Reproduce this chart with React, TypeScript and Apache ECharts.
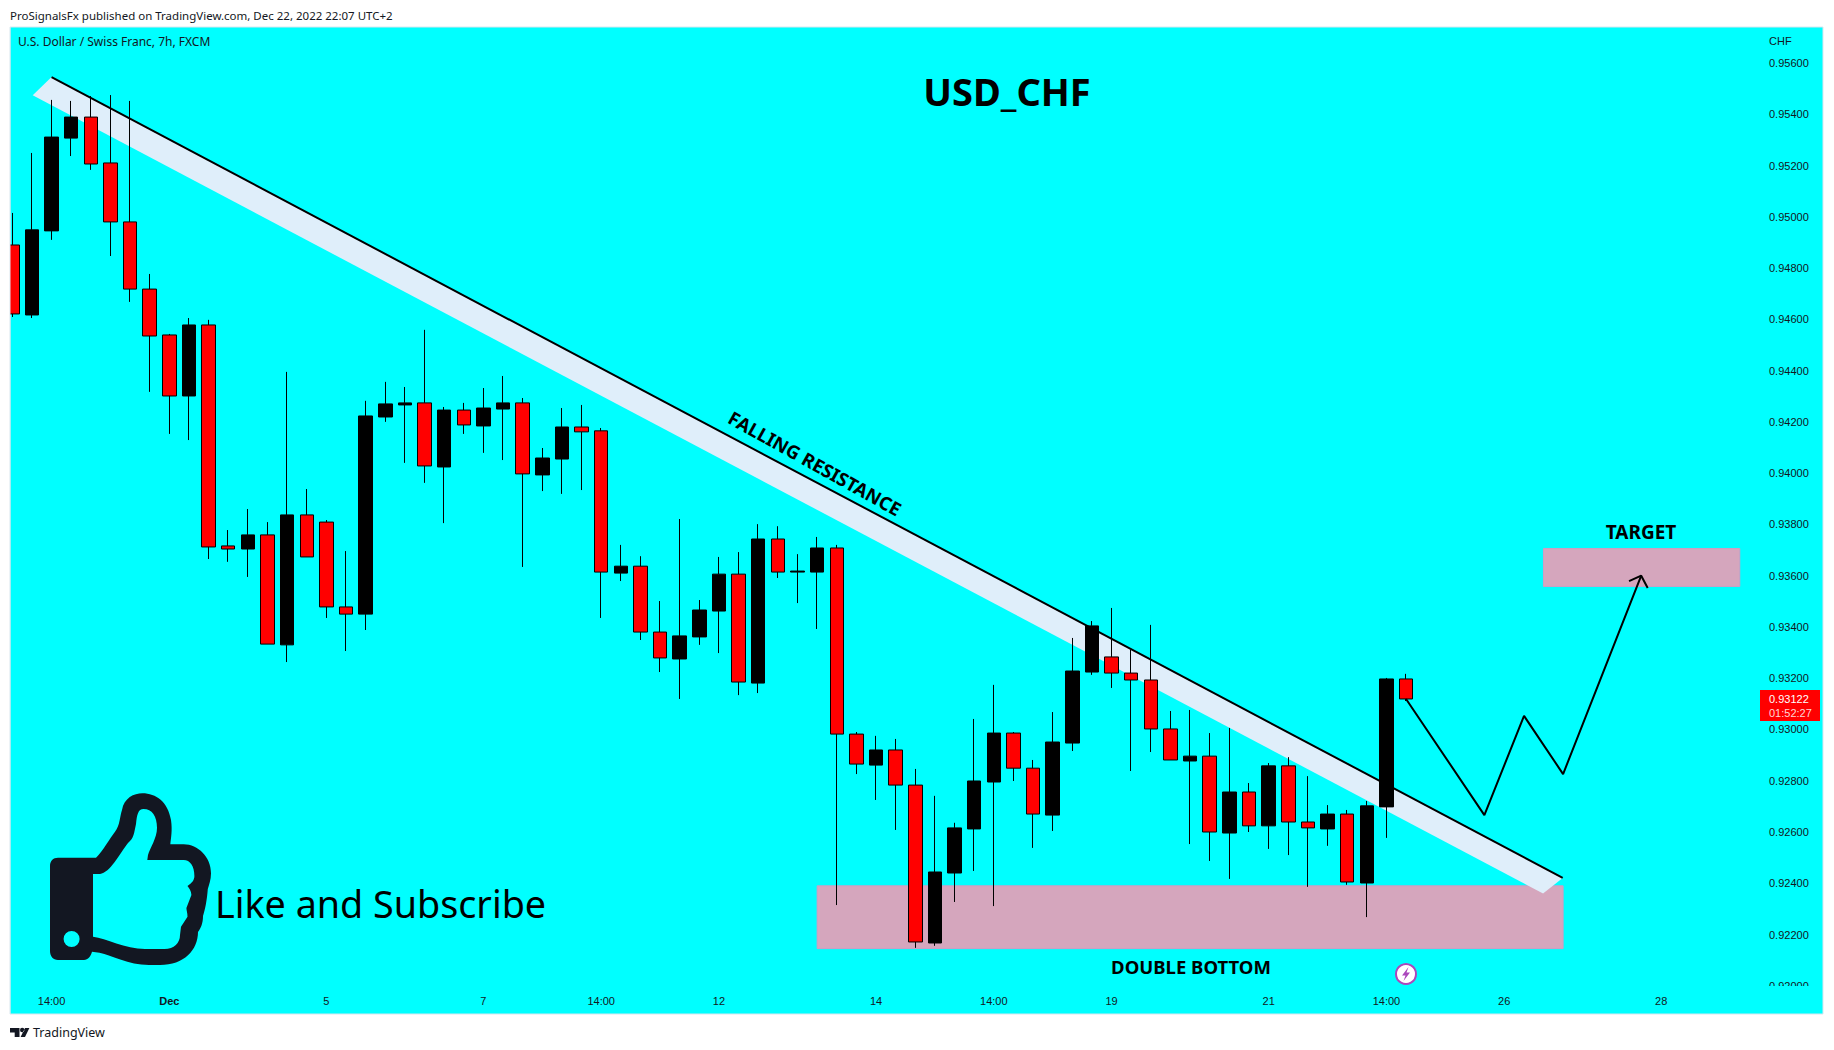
import React, { useEffect, useRef } from "react";
import * as echarts from "echarts";

// [open, close, low, high] of every 7h candle
const candleRows: number[][] = [
  [0.9489, 0.94621, 0.94609, 0.95015],
  [0.94617, 0.94949, 0.94605, 0.95249],
  [0.94945, 0.95311, 0.9491, 0.95456],
  [0.95307, 0.95389, 0.95237, 0.95452],
  [0.95389, 0.95206, 0.95183, 0.95471],
  [0.9521, 0.9498, 0.94847, 0.95475],
  [0.9498, 0.94718, 0.94668, 0.95452],
  [0.94718, 0.94535, 0.94317, 0.94777],
  [0.94539, 0.94301, 0.94153, 0.94543],
  [0.94301, 0.94578, 0.94129, 0.94605],
  [0.94578, 0.93712, 0.93665, 0.94598],
  [0.93716, 0.93704, 0.93654, 0.93778],
  [0.93704, 0.93759, 0.93595, 0.9386],
  [0.93759, 0.93333, 0.93333, 0.93809],
  [0.9333, 0.93837, 0.93263, 0.94395],
  [0.93837, 0.93673, 0.93673, 0.93938],
  [0.93809, 0.93478, 0.93435, 0.93817],
  [0.93478, 0.9345, 0.93306, 0.93696],
  [0.9345, 0.94223, 0.93388, 0.94282],
  [0.94219, 0.9427, 0.942, 0.94356],
  [0.94266, 0.94274, 0.9404, 0.94336],
  [0.94274, 0.94028, 0.93962, 0.94559],
  [0.94024, 0.94246, 0.93805, 0.94258],
  [0.94246, 0.94188, 0.94153, 0.94274],
  [0.94184, 0.94254, 0.94079, 0.94332],
  [0.9425, 0.94274, 0.94051, 0.94379],
  [0.94274, 0.93997, 0.93634, 0.94293],
  [0.93993, 0.94059, 0.9393, 0.94098],
  [0.94055, 0.9418, 0.93919, 0.94254],
  [0.9418, 0.94161, 0.93934, 0.94266],
  [0.94165, 0.93614, 0.93435, 0.94176],
  [0.9361, 0.93637, 0.93579, 0.9372],
  [0.93637, 0.9338, 0.93349, 0.93676],
  [0.9338, 0.93279, 0.93224, 0.93501],
  [0.93275, 0.93365, 0.93119, 0.93821],
  [0.93361, 0.93466, 0.9333, 0.93505],
  [0.93462, 0.93606, 0.93298, 0.93673],
  [0.93606, 0.93185, 0.93134, 0.93692],
  [0.93181, 0.93743, 0.93142, 0.93801],
  [0.93743, 0.93614, 0.93591, 0.93793],
  [0.93614, 0.93618, 0.93493, 0.93684],
  [0.93614, 0.93708, 0.93392, 0.93751],
  [0.93708, 0.92982, 0.92315, 0.9372],
  [0.92982, 0.92865, 0.92826, 0.9299],
  [0.92861, 0.9292, 0.92725, 0.92975],
  [0.9292, 0.92783, 0.92608, 0.92963],
  [0.92783, 0.92171, 0.92148, 0.92846],
  [0.92167, 0.92444, 0.92156, 0.92741],
  [0.9244, 0.92616, 0.92327, 0.92636],
  [0.92612, 0.92799, 0.92448, 0.93041],
  [0.92795, 0.92986, 0.92311, 0.93174],
  [0.92986, 0.92849, 0.92799, 0.9299],
  [0.92849, 0.9267, 0.92538, 0.92881],
  [0.92666, 0.92951, 0.92604, 0.93068],
  [0.92947, 0.93228, 0.92916, 0.93357],
  [0.93224, 0.93404, 0.93213, 0.93423],
  [0.93283, 0.9322, 0.93162, 0.93474],
  [0.9322, 0.93193, 0.92838, 0.9331],
  [0.93193, 0.93002, 0.92912, 0.93408],
  [0.93002, 0.92881, 0.92881, 0.93072],
  [0.92877, 0.92896, 0.92553, 0.93076],
  [0.92896, 0.926, 0.92487, 0.92986],
  [0.92596, 0.92756, 0.92417, 0.93006],
  [0.92756, 0.92624, 0.926, 0.92791],
  [0.92624, 0.92858, 0.92534, 0.92869],
  [0.92858, 0.92639, 0.9251, 0.92892],
  [0.92639, 0.92616, 0.92386, 0.92818],
  [0.92612, 0.9267, 0.92546, 0.92705],
  [0.9267, 0.92405, 0.92394, 0.92686],
  [0.92401, 0.92702, 0.92268, 0.92721],
  [0.92698, 0.93197, 0.92577, 0.93201],
  [0.93197, 0.93119, 0.93111, 0.93217],
];

const timeTickIndexes = [2, 8, 16, 24, 30, 36, 44, 50, 56, 64, 70, 76, 84];
const timeTickLabels = ["14:00", "Dec", "5", "7", "14:00", "12", "14", "14:00", "19", "21", "14:00", "26", "28"];
const priceTicks = [0.92, 0.922, 0.924, 0.926, 0.928, 0.93, 0.932, 0.934, 0.936, 0.938, 0.94, 0.942, 0.944, 0.946, 0.948, 0.95, 0.952, 0.954, 0.956];

// drawings, as [bar index, price]
const resistanceLine = [[2.0, 0.95545], [78.98, 0.92421]];
const resistanceBand = [[2.0, 0.95545], [78.98, 0.92421], [77.98, 0.9236], [1.04, 0.95474]];
const doubleBottomZone = [[41, 0.9239], [79, 0.92145]];
const targetZone = [[78, 0.93706], [88, 0.93558]];
const projection = [[71, 0.93119], [74.99, 0.92666], [77.01, 0.93053], [79, 0.92826], [82.98, 0.936]];
const arrowHead = [[82.36, 0.93579], [82.98, 0.936], [83.31, 0.93552]];

const THUMB =
  "M58 857.7 L96 857.7 C103 851 110 838 115 831.7 C120 826 120 815 122 810 C124 798 134 793.3 142.4 793.3 C156 793.3 168 802 171 820 C172.5 830 171 838 170.3 844.3 L183.7 844.3 C198 844.3 211 857 211 873.3 C211 880 209 885 207.8 889 C207 900 205 910 203 916 C203 923 201 928 198 932 C198 950 184 965 160 965 L149 965 C128 965 112 955 99.5 952.7 L92 951.7 C91 956 88 960 84 960 L58 960 C53 960 50 956 50 951 L50 866 C50 861 53 857.7 58 857.7 Z " +
  "M93 874 L93 936.7 C106 938 125 949 145 949 L164.6 949 C174 949 180 943 180 935 L181 926.7 L187.5 916.7 C187.5 913 186.4 910 186.4 908 L191.4 895 C191.4 891 189 888 187.5 886 C192 883 194.4 880 194.4 876 C194.4 866 190 860 183.7 860 L147.3 860 L148 855 C150 848 157 838 157 828 C157 816 152 809 143.5 809 C138 809 137 815 136 824 C134 833 134 838 128 843 C120 853 110 873 100 874 Z " +
  "M63.6 939 A8 8 0 1 0 79.6 939 A8 8 0 1 0 63.6 939 Z";
const TV_LOGO =
  "M10 1028 L19.5 1028 L19.5 1037 L14.7 1037 L14.7 1032.5 L10 1032.5 Z M20 1030 A2.2 2.2 0 1 0 24.4 1030 A2.2 2.2 0 1 0 20 1030 Z M25 1028 L29.4 1028 L25 1037 L20.6 1037 Z";
const BOLT = "M1408.5 967 L1402 975.5 L1405.5 975.5 L1403.5 981 L1410 972.5 L1406.5 972.5 Z";

echarts.graphic.registerShape("thumbIcon", echarts.graphic.extendPath(THUMB, {}));
echarts.graphic.registerShape("tvLogo", echarts.graphic.extendPath(TV_LOGO, {}));
echarts.graphic.registerShape("boltIcon", echarts.graphic.extendPath(BOLT, {}));

const INK = "#131722";
const SMALL = "Liberation Sans";
const HEAD = "Noto Sans";

function label(text: string, x: number, y: number, font: string, fill = "#000", extra: any = {}) {
  const { rotation, ...style } = extra;
  return {
    type: "text",
    x,
    y,
    rotation: rotation || 0,
    z: 20,
    silent: true,
    style: { text, font, fill, textVerticalAlign: "middle", ...style },
  };
}

function zoneSeries(corners: number[][], fill: string, stroke: string) {
  return {
    type: "custom",
    z: 1,
    silent: true,
    clip: false,
    data: [corners[0]],
    encode: { x: 0, y: 1 },
    renderItem: (_: any, api: any) => {
      const a = api.coord(corners[0]);
      const b = api.coord(corners[1]);
      return {
        type: "rect",
        shape: { x: a[0], y: a[1], width: b[0] - a[0], height: b[1] - a[1] },
        style: { fill, stroke, lineWidth: 1 },
      };
    },
  };
}

export default function App() {
  const ref = useRef<HTMLDivElement>(null);
  useEffect(() => {
    const chart = echarts.init(ref.current!, undefined, { renderer: "svg" });
    chart.setOption({
      animation: false,
      backgroundColor: "#ffffff",
      grid: {
        show: true,
        left: 10,
        top: 27,
        width: 1813,
        height: 987,
        backgroundColor: "#00FFFF",
        borderColor: "#D9E6EE",
        borderWidth: 1,
      },
      xAxis: {
        type: "value",
        min: -0.117,
        max: 92.24,
        axisLine: { show: false },
        axisTick: { show: false },
        splitLine: { show: false },
        axisLabel: {
          inside: true,
          margin: 13,
          verticalAlign: "middle",
          customValues: timeTickIndexes,
          fontFamily: SMALL,
          fontSize: 11,
          color: INK,
          formatter: (v: number) => {
            const t = timeTickLabels[timeTickIndexes.indexOf(Math.round(v))];
            return t === "Dec" ? "{b|Dec}" : t;
          },
          rich: { b: { fontWeight: "bold", fontFamily: SMALL, fontSize: 11, color: INK } },
        },
      },
      yAxis: {
        type: "value",
        position: "right",
        min: 0.9189,
        max: 0.957404,
        axisLine: { show: false },
        axisTick: { show: false },
        splitLine: { show: false },
        axisLabel: {
          inside: true,
          margin: 54,
          align: "left",
          customValues: priceTicks,
          fontFamily: SMALL,
          fontSize: 11,
          color: INK,
          formatter: (v: number) => v.toFixed(5),
        },
      },
      series: [
        zoneSeries(doubleBottomZone, "#D5A6BD", "#CF9CC4"),
        zoneSeries(targetZone, "#D5A6BD", "#CF9CC4"),
        {
          type: "custom",
          z: 1,
          silent: true,
          clip: false,
          data: [resistanceBand[0]],
          encode: { x: 0, y: 1 },
          renderItem: (_: any, api: any) => ({
            type: "polygon",
            shape: { points: resistanceBand.map((p) => api.coord(p)) },
            style: { fill: "#DFEEFA" },
          }),
        },
        {
          type: "line",
          z: 2,
          silent: true,
          data: resistanceLine,
          symbol: "none",
          lineStyle: { color: "#000", width: 2 },
        },
        {
          type: "candlestick",
          z: 3,
          silent: true,
          barWidth: 14,
          data: candleRows.map((r, i) => [i, ...r]),
          itemStyle: {
            color: "#000000",
            color0: "#FF0000",
            borderColor: "#000000",
            borderColor0: "#000000",
            borderWidth: 1,
          },
        },
        {
          type: "line",
          z: 4,
          silent: true,
          data: projection,
          symbol: "none",
          lineStyle: { color: "#000", width: 2 },
        },
        {
          type: "line",
          z: 4,
          silent: true,
          data: arrowHead,
          symbol: "none",
          lineStyle: { color: "#000", width: 2 },
        },
      ],
      graphic: {
        elements: [
          { type: "rect", z: 15, silent: true, shape: { x: 0, y: 27, width: 10, height: 987 }, style: { fill: "#FFFFFF" } },
          { type: "line", z: 16, silent: true, shape: { x1: 10, y1: 27, x2: 10, y2: 1014 }, style: { stroke: "#D9E6EE", lineWidth: 1 } },
          { type: "rect", z: 15, silent: true, shape: { x: 1764, y: 986, width: 52, height: 10 }, style: { fill: "#00FFFF" } },
          label("ProSignalsFx published on TradingView.com, Dec 22, 2022 22:07 UTC+2", 10, 15, `11.5px '${HEAD}'`, INK),
          label("U.S. Dollar / Swiss Franc, 7h, FXCM", 18, 41.5, `12px '${HEAD}'`, INK),
          label("CHF", 1769, 41, `11px '${SMALL}'`, INK),
          label("USD_CHF", 1007, 91, `bold 38px '${HEAD}'`, "#000", { textAlign: "center" }),
          label("FALLING RESISTANCE", 815, 463, `bold 18.6px '${HEAD}'`, "#000", { textAlign: "center", rotation: -0.507 }),
          label("TARGET", 1641, 532, `bold 19px '${HEAD}'`, "#000", { textAlign: "center" }),
          label("DOUBLE BOTTOM", 1191, 966, `bold 18.5px '${HEAD}'`, "#000", { textAlign: "center" }),
          label("Like and Subscribe", 215, 903, `37.7px '${HEAD}'`, "#000"),
          { type: "thumbIcon", z: 20, silent: true, x: 0, y: 0, style: { fill: INK } },
          { type: "tvLogo", z: 20, silent: true, x: 0, y: 0, style: { fill: INK } },
          label("TradingView", 33, 1032, `12.5px '${HEAD}'`, INK),
          { type: "circle", z: 20, silent: true, shape: { cx: 1406, cy: 974, r: 10 }, style: { fill: "#FFFFFF", stroke: "#AB47BC", lineWidth: 2 } },
          { type: "boltIcon", z: 21, silent: true, x: 0, y: 0, style: { fill: "#AB47BC" } },
          { type: "rect", z: 20, silent: true, shape: { x: 1760, y: 690, width: 60, height: 31 }, style: { fill: "#FF0000" } },
          label("0.93122", 1769, 698.5, `11px '${SMALL}'`, "#FFFFFF"),
          label("01:52:27", 1769, 712.5, `11px '${SMALL}'`, "#FFD6D6"),
        ],
      },
    });
    return () => chart.dispose();
  }, []);
  return <div ref={ref} style={{ position: "fixed", left: 0, top: 0, width: 1834, height: 1050 }} />;
}
